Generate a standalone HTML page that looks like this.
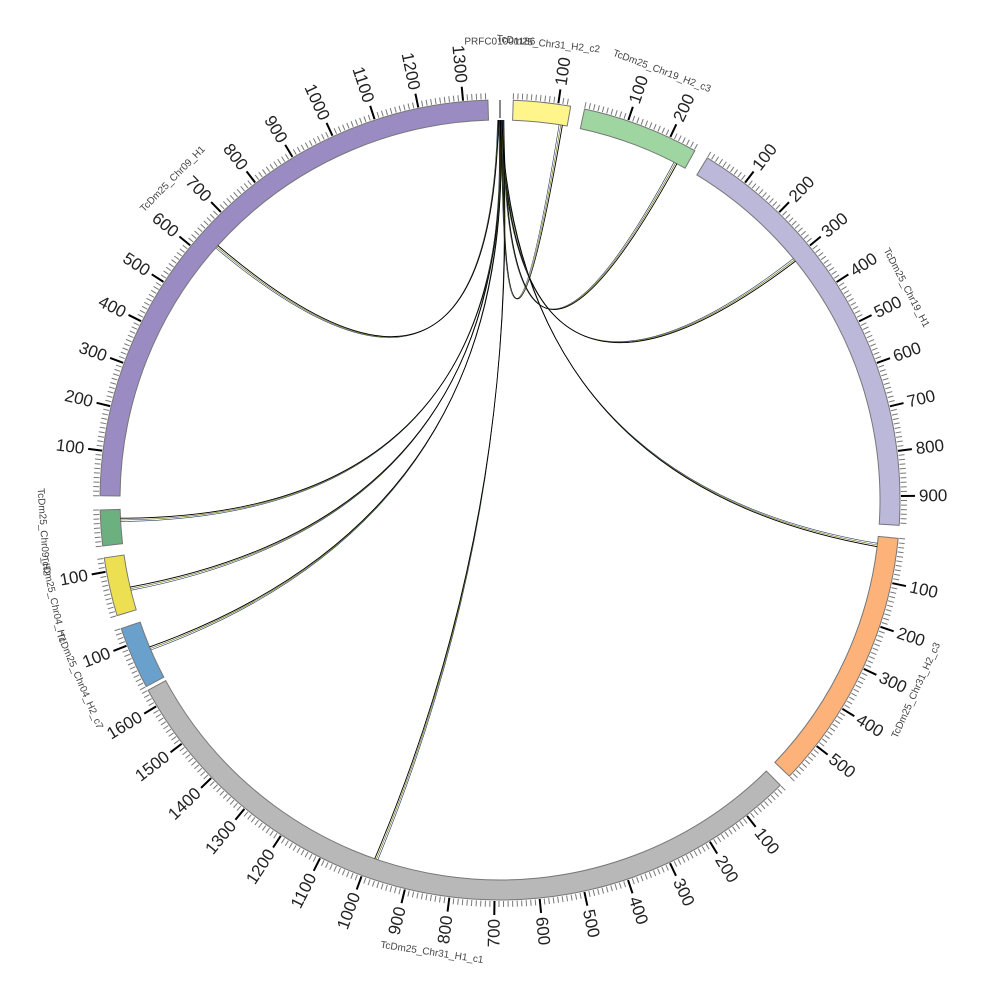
<!DOCTYPE html>
<html><head><meta charset="utf-8"><style>
html,body{margin:0;padding:0;background:#fff;width:1000px;height:1000px;overflow:hidden}
svg{font-family:"Liberation Sans","DejaVu Sans",sans-serif}
</style></head><body>
<svg id="s" width="1000" height="1000" viewBox="0 0 1000 1000" xmlns="http://www.w3.org/2000/svg"></svg>
<script>
var s=document.getElementById('s'),NS='http://www.w3.org/2000/svg';
var cx=500,cy=500,R0=380,R1=400,k=0.0647;
function P(r,a){var t=a*Math.PI/180;return [cx+r*Math.sin(t),cy-r*Math.cos(t)];}
function el(n,at,txt){var e=document.createElementNS(NS,n);for(var q in at)e.setAttribute(q,at[q]);if(txt!=null)e.textContent=txt;s.appendChild(e);return e;}
var segs=[
 {n:'PRFC01001186',a:-0.15,L:4,c:'#999',tiny:1},
 {n:'TcDm25_Chr31_H2_c2',a:1.9,L:128,c:'#fff58a'},
 {n:'TcDm25_Chr19_H2_c3',a:12.2,L:262,c:'#9ed5a0'},
 {n:'TcDm25_Chr19_H1',a:31.2,L:965,c:'#bcb8da'},
 {n:'TcDm25_Chr31_H2_c3',a:95.5,L:590,c:'#fdb27a'},
 {n:'TcDm25_Chr31_H1_c1',a:135.5,L:1640,c:'#b8b8b8'},
 {n:'TcDm25_Chr04_H2_c7',a:242.2,L:140,c:'#6aa0cc'},
 {n:'TcDm25_Chr04_H1',a:253.2,L:131,c:'#ece052'},
 {n:'TcDm25_Chr09_H2',a:263.4,L:80,c:'#6cb07f'},
 {n:'TcDm25_Chr09_H1',a:270.6,L:1355,c:'#9b8bc3'}
];
segs.forEach(function(g){
 var a0=g.a,a1=g.a+g.L*k;
 if(g.tiny){var p=P(382,0),q=P(400,0);el('line',{x1:p[0],y1:p[1],x2:q[0],y2:q[1],stroke:'#888','stroke-width':2});}
 else{
 var p1=P(R1,a0),p2=P(R1,a1),p3=P(R0,a1),p4=P(R0,a0),lg=(a1-a0)>180?1:0;
 el('path',{d:'M'+p1+' A'+R1+' '+R1+' 0 '+lg+' 1 '+p2+' L'+p3+' A'+R0+' '+R0+' 0 '+lg+' 0 '+p4+'Z',fill:g.c,stroke:'#777','stroke-width':1});
 for(var u=0;u<=g.L;u+=10){var a=a0+u*k;var maj=u%100==0&&u>0;
  var A=P(R1+1,a),B=P(R1+(maj?15:7),a);
  el('line',{x1:A[0],y1:A[1],x2:B[0],y2:B[1],stroke:maj?'#000':'#777','stroke-width':maj?2:1});
  if(maj){var aa=((a%360)+360)%360,T=P(R1+19,a),rot,anc;
   if(aa<=180){rot=aa-90;anc='start';}else{rot=aa+90;anc='end';}
   el('text',{x:T[0],y:T[1],'font-size':17,fill:'#222','text-anchor':anc,'dominant-baseline':'central',transform:'rotate('+rot+' '+T[0]+' '+T[1]+')'},String(u));}
 }}
 var am=(a0+a1)/2,aa=((am%360)+360)%360,T=P(458,am),rot;
 if(aa<90)rot=aa;else if(aa<270)rot=aa-180;else rot=aa-360;
 el('text',{x:T[0],y:T[1],'font-size':10,fill:'#444','text-anchor':'middle','dominant-baseline':'central',transform:'rotate('+rot+' '+T[0]+' '+T[1]+')'},g.n);
});
var links=[[0.3,9.2],[0.5,27.5],[0.2,50.8],[0.1,96.8],[0.2,199],[0,267],[-0.2,256.5],[-0.1,247],[-0.3,-48.2]];
var cols=['#1b3a5c','#6b6a00','#000'];
links.forEach(function(l){
 for(var i=0;i<3;i++){var d=(i-1)*0.25;
 var a0=l[0]+d*0.3,a1=l[1]+d,p=P(R0,a0),q=P(R0,a1);
 var mid=a0+(a1-a0)/2;var c=P(25,mid);
 el('path',{d:'M'+p+' Q'+c+' '+q,fill:'none',stroke:cols[i],'stroke-width':i==2?0.9:0.6});}
});
</script>
</body></html>
